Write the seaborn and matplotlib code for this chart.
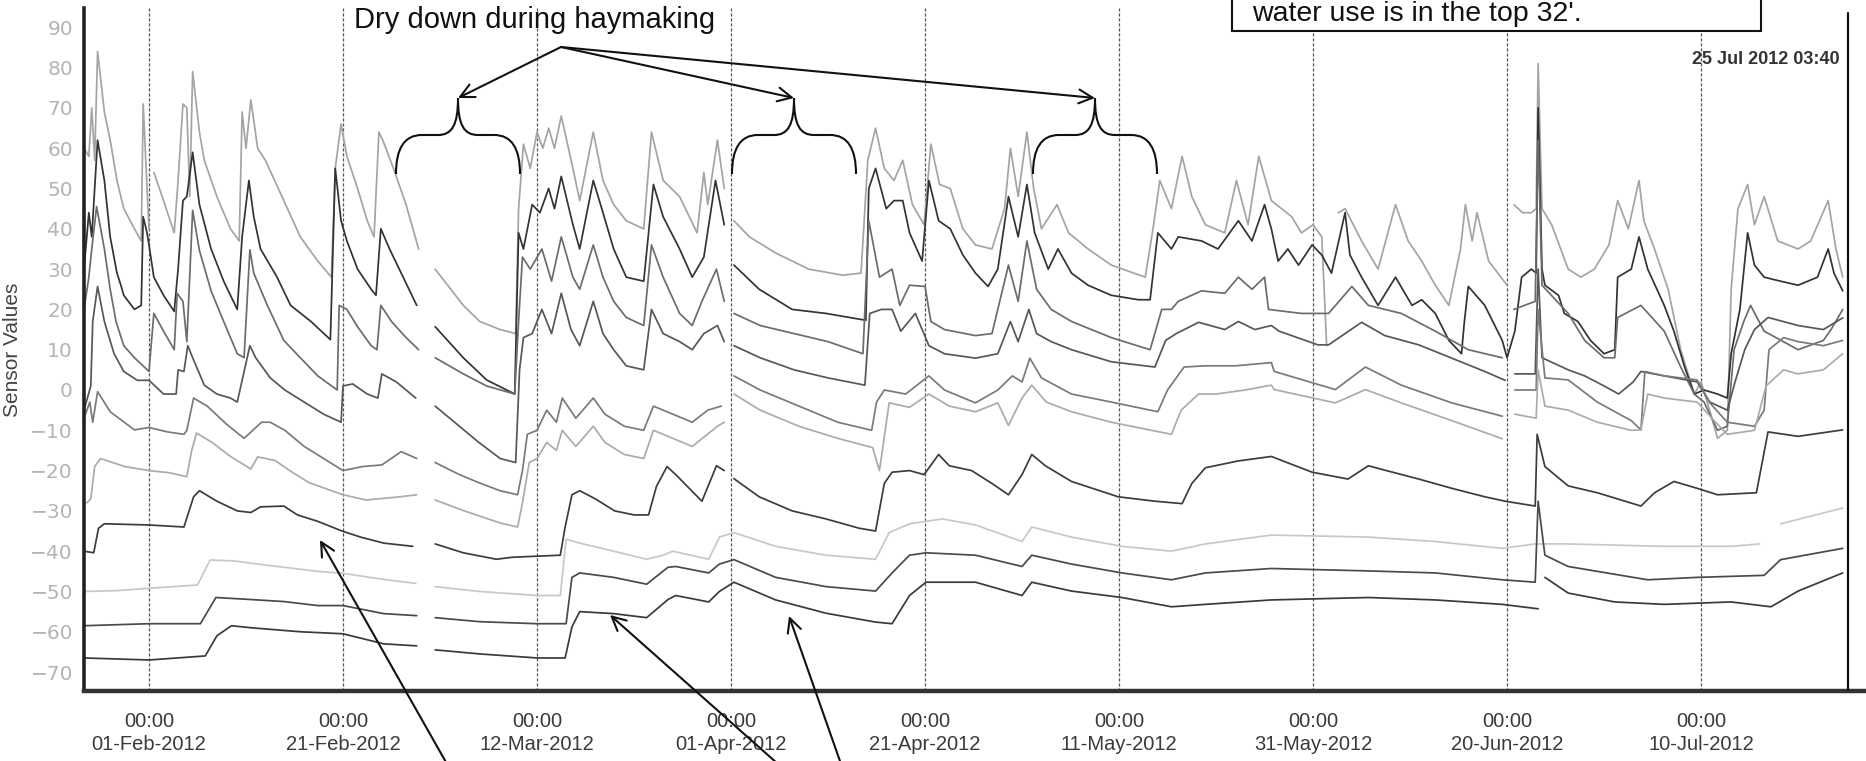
"""
Soil moisture sensor traces, Feb - Jul 2012, with haymaking dry-down notes.
Values read off the original chart; x is days after 01-Feb-2012 00:00.
"""

import numpy as np
import pandas as pd
import matplotlib
matplotlib.use('Agg')
import matplotlib.pyplot as plt
import matplotlib.dates as mdates
from matplotlib.patches import Rectangle, PathPatch, FancyArrowPatch
from matplotlib.path import Path
import seaborn as sns

BASE = pd.Timestamp('2012-02-01 00:00')
NAN = np.nan

# (day after 01-Feb, sensor value); NAN marks a gap in the record
SENSOR_A = [(-6.7, 60), (-6.2, 58), (-5.9, 70), (-5.6, 57), (-5.3, 84), (-4.6, 69), (-4.0, 62), (-3.3, 52),
            (-2.6, 45), (-1.5, 40), (-0.8, 37), (-0.6, 71), (-0.2, 50), (0.0, 40), (0.3, NAN), (0.5, 54),
            (1.5, 47), (2.6, 39), (3.0, 52), (3.5, 71), (3.9, 70), (4.2, 48), (4.5, 79), (5.2, 64), (5.7, 57),
            (7.0, 48), (8.4, 40), (9.3, 37), (9.6, 69), (10.0, 60), (10.5, 72), (11.2, 60), (12.0, 57),
            (13.9, 47), (15.6, 38), (17.4, 32), (18.8, 28), (19.2, 55), (19.8, 66), (20.4, 58), (21.5, 50),
            (22.5, 42), (23.2, 38), (23.7, 64), (24.1, 62), (25.2, 55), (26.5, 46), (27.8, 35), (28.5, NAN),
            (29.5, 30), (32.4, 21), (34.1, 17), (36.2, 15), (37.8, 14), (38.1, 45), (38.6, 61), (39.3, 55),
            (40.0, 64), (40.6, 60), (41.2, 65), (41.8, 60), (42.5, 68), (43.7, 55), (44.4, 47), (45.8, 64),
            (46.8, 52), (47.9, 46), (49.2, 42), (51.0, 40), (51.8, 64), (53.0, 52), (54.7, 48), (56.5, 39),
            (57.2, 54), (57.6, 46), (58.6, 62), (59.3, 50), (59.8, NAN), (60.3, 42), (61.9, 38), (64.6, 34),
            (68.0, 30), (71.5, 28.5), (73.4, 29), (74.1, 57), (74.9, 65), (75.8, 55), (76.8, 52), (77.7, 57),
            (78.7, 46), (79.9, 41), (80.6, 61), (81.5, 51), (82.6, 50), (83.9, 40), (85.2, 36), (86.9, 35),
            (88.2, 45), (88.8, 60), (89.6, 48), (90.5, 64), (91.2, 50), (92.0, 40), (93.6, 46), (94.8, 39),
            (96.8, 35), (99.2, 31), (102.7, 28), (103.5, 40), (104.2, 52), (105.4, 45), (106.5, 58),
            (107.5, 48), (108.9, 41), (110.9, 39), (112.1, 52), (113.3, 41), (114.4, 58), (115.7, 47),
            (117.8, 43), (118.8, 39), (120.0, 41), (120.9, 38), (121.4, 11), (121.6, NAN), (122.6, 44),
            (123.3, 45), (125.0, 37), (126.7, 30), (128.5, 46), (129.8, 37), (131.2, 32), (132.6, 26),
            (134.0, 21), (135.2, 35), (135.7, 46), (136.4, 37), (136.9, 44), (138.1, 32), (140.0, 26),
            (140.3, NAN), (140.7, 46), (141.6, 44), (142.5, 44), (143.0, 45), (143.2, 81), (143.6, 45),
            (144.6, 41), (146.3, 30), (147.6, 28), (149.0, 30), (150.5, 36), (151.4, 47), (152.5, 40),
            (153.6, 52), (154.1, 42), (155.2, 35), (156.6, 25), (157.9, 10), (159.3, -1), (160.0, 2),
            (161.0, -6), (161.7, -12), (162.7, -10), (163.1, 25), (163.8, 45), (164.8, 51), (165.5, 41),
            (166.5, 48), (167.9, 37), (170.0, 35), (171.3, 37), (173.1, 47), (173.9, 35), (174.6, 28)]

SENSOR_B = [(-6.7, 30), (-6.2, 44), (-5.9, 38), (-5.3, 62), (-4.6, 52), (-4.0, 38), (-3.3, 29), (-2.9, 26),
            (-2.6, 23.5), (-1.5, 20), (-0.8, 21), (-0.6, 43), (-0.2, 39), (0.0, 36), (0.5, 28), (1.5, 23.5),
            (2.6, 19.5), (3.0, 30), (3.5, 47), (3.9, 48), (4.5, 59), (5.2, 46), (6.4, 35), (7.7, 27),
            (9.1, 20), (9.6, 38), (10.3, 52), (10.8, 43), (11.5, 35), (13.2, 28), (14.6, 21), (16.7, 17),
            (18.7, 12.5), (19.2, 55), (19.8, 42), (20.4, 37), (21.5, 30), (22.9, 25), (23.4, 23.5),
            (23.9, 40), (24.8, 35), (26.2, 28), (27.6, 21), (28.5, NAN), (29.5, 15.7), (32.4, 8), (34.8, 2.5),
            (37.7, -1), (38.1, 39), (38.6, 35), (39.5, 46), (40.3, 44), (41.2, 50), (41.8, 45), (42.5, 53),
            (43.7, 41), (44.4, 35), (45.8, 52), (46.8, 44), (47.9, 35), (49.2, 28), (51.0, 27), (52.0, 51),
            (53.0, 43), (54.7, 35), (56.0, 28), (57.2, 33), (58.4, 52), (59.3, 41), (59.8, NAN), (60.3, 31),
            (62.9, 25), (66.3, 20), (69.8, 19), (73.9, 17.3), (74.2, 50), (74.9, 55), (76.0, 45), (76.8, 47),
            (77.7, 47), (78.4, 39), (79.7, 32), (80.4, 52), (81.4, 42), (82.6, 40), (83.9, 33.5), (85.2, 29),
            (86.5, 25.7), (87.5, 30), (88.6, 48), (89.6, 38), (90.5, 51), (91.3, 39), (92.7, 30), (93.7, 35),
            (95.1, 29), (96.8, 26), (99.2, 23.5), (102.0, 22.4), (103.2, 22.4), (104.0, 39), (105.4, 35),
            (106.1, 38), (108.5, 37), (110.2, 35), (112.3, 42), (113.7, 37), (115.0, 46), (115.7, 40),
            (116.4, 32), (117.4, 35), (118.5, 31), (119.9, 36), (120.9, 33.5), (121.9, 29), (123.3, 44),
            (123.8, 33.5), (125.0, 28), (126.7, 21), (128.5, 28), (130.2, 21), (131.2, 22.4), (132.6, 19),
            (134.0, 12.3), (135.3, 9), (135.6, 17), (136.0, 25.7), (137.7, 21), (139.5, 12.3), (140.0, 8),
            (140.8, 14.6), (141.5, 28), (142.5, 30), (143.0, 29), (143.2, 70), (143.6, 30), (143.9, 26),
            (145.3, 23.5), (145.9, 19), (147.3, 17), (148.6, 12.3), (150.0, 9), (151.1, 10), (151.4, 28),
            (152.8, 30), (153.6, 38), (154.5, 30), (156.2, 21), (157.2, 14.6), (158.3, 5.7), (159.3, -1),
            (160.3, 0), (161.7, -1), (162.7, -2), (163.1, 9), (164.0, 20), (164.8, 39), (165.5, 31),
            (166.5, 28), (168.2, 27), (170.0, 26), (172.0, 28), (173.1, 35), (173.7, 29), (174.6, 24.6)]

SENSOR_C = [(-6.7, 20), (-6.2, 28), (-5.9, 35), (-5.4, 45.5), (-4.6, 35), (-4.0, 25), (-3.4, 17), (-2.6, 11),
            (-1.5, 8), (0.0, 4.6), (0.5, 19), (1.5, 14.6), (2.6, 10), (2.9, 24), (3.5, 22), (3.9, 12),
            (4.5, 44.6), (5.2, 34.6), (6.4, 24.6), (7.7, 17), (9.1, 9), (9.8, 8), (10.4, 34.8), (10.8, 29),
            (12.2, 21), (13.9, 12.3), (15.6, 8), (17.4, 3.5), (19.4, 0), (19.6, 21), (20.4, 20), (21.5, 15.7),
            (22.9, 11), (23.5, 10), (23.9, 21), (25.0, 17), (26.5, 13), (27.8, 10), (28.5, NAN), (29.5, 8),
            (32.4, 4), (34.8, 1), (37.7, -1), (38.1, 17), (38.5, 33), (39.3, 30), (40.5, 35), (41.5, 27),
            (42.5, 38), (43.7, 28), (44.4, 25), (45.8, 36), (46.8, 28), (47.9, 22), (49.2, 18), (51.0, 16),
            (51.8, 36), (53.0, 28), (54.7, 19), (56.0, 16), (57.0, 22), (58.5, 30), (59.3, 22), (59.8, NAN),
            (60.3, 19), (63.0, 16), (66.5, 14), (70.0, 12), (73.6, 9), (74.2, 42), (75.3, 28), (76.6, 30),
            (77.4, 21), (78.4, 26), (80.0, 25.7), (80.6, 17), (82.0, 15), (85.2, 13.5), (86.9, 14), (88.6, 31),
            (89.6, 22), (90.5, 37), (91.5, 25), (93.0, 20), (95.1, 17), (99.2, 13), (103.2, 10), (104.4, 20),
            (105.4, 20), (106.1, 22), (108.5, 24.6), (110.9, 24), (112.3, 28), (113.7, 25), (115.0, 28),
            (115.4, 20), (118.8, 19), (121.6, 19), (124.0, 25.7), (125.7, 21), (129.1, 19), (132.6, 14.6),
            (136.0, 10), (139.5, 8), (140.3, NAN), (140.7, 20), (142.9, 22), (143.2, 62), (143.6, 26),
            (146.3, 19), (148.0, 12.3), (150.0, 8), (151.1, 8), (151.4, 18), (153.8, 21), (156.2, 14.6),
            (157.9, 5.7), (159.3, -1), (160.3, -3), (161.7, -10), (162.7, -9), (163.4, 10), (164.4, 17),
            (165.1, 21), (166.5, 14.6), (170.0, 10), (172.6, 12.3), (173.4, 15), (174.6, 20)]

SENSOR_D = [(-6.7, -5), (-6.0, 1), (-5.8, 17), (-5.3, 25.7), (-4.6, 17), (-3.6, 9), (-2.6, 4.6), (-1.2, 2.4),
            (0.0, 2.4), (1.5, -1), (2.8, -1), (3.0, 5), (3.6, 4.6), (4.0, 11), (4.5, 8), (5.7, 1.2), (7.0, -1),
            (8.4, -2), (9.1, -3), (10.4, 11), (11.0, 8), (12.5, 3), (14.0, 0), (16.0, -3), (18.0, -6),
            (19.8, -8), (20.0, 1), (21.0, 1.5), (22.5, -1), (23.6, -2), (24.0, 4), (25.5, 2), (27.5, -2),
            (28.5, NAN), (29.5, -4), (32.0, -9), (34.0, -13), (36.2, -17), (37.8, -18), (38.2, 5), (38.6, 13),
            (39.5, 14), (40.5, 20), (41.5, 14), (42.5, 24), (43.5, 15), (44.4, 11), (45.8, 22), (46.8, 14),
            (47.9, 10), (49.2, 6), (51.0, 5), (51.8, 20), (53.0, 14), (54.7, 12), (56.0, 10), (57.2, 14),
            (58.6, 16), (59.3, 12), (59.8, NAN), (60.3, 11), (63.0, 8), (66.5, 5), (70.0, 3), (73.8, 1.2),
            (74.3, 19), (75.5, 20), (76.6, 20), (77.5, 14.6), (79.0, 19), (80.4, 11), (82.0, 9), (85.2, 7.9),
            (87.5, 9), (88.8, 17), (89.6, 12), (90.7, 20), (91.5, 14), (93.0, 12), (95.1, 10), (99.2, 7),
            (103.7, 5.7), (104.8, 12.3), (105.9, 14), (108.2, 16.8), (110.9, 15), (112.3, 17), (114.0, 15),
            (115.7, 16), (116.5, 14.6), (120.5, 11.2), (121.6, 11.2), (125.0, 16.8), (127.4, 13.5),
            (130.9, 11.2), (134.3, 7.9), (137.7, 4.6), (139.8, 2.4), (140.3, NAN), (140.8, 4), (142.9, 4),
            (143.2, 30), (143.6, 8), (146.3, 5), (148.0, 3.5), (150.0, 1), (151.5, -1), (153.0, 2),
            (153.8, 4.6), (156.2, 3.5), (159.6, 2), (160.9, -3), (162.7, -5), (163.5, 2), (164.5, 10),
            (165.5, 15), (166.9, 18), (170.0, 16), (172.6, 15), (174.6, 17.9)]

SENSOR_E = [(-6.7, -7), (-6.1, -3), (-5.8, -8), (-5.3, -0.4), (-4.0, -5.4), (-1.5, -9.9), (0.0, -9.3),
            (1.9, -10.4), (3.6, -11), (3.9, -10), (4.6, -2), (6.0, -4), (8.0, -8.5), (9.8, -12), (11.6, -8),
            (12.5, -8), (14.0, -10), (16.0, -14), (18.0, -17), (20.0, -20), (22.0, -19), (24.0, -18.6),
            (26.0, -15.3), (27.6, -17), (28.5, NAN), (29.5, -18), (32.0, -21), (34.0, -23), (36.2, -25),
            (38.0, -26), (38.5, -20), (39.0, -11), (40.0, -10), (41.0, -5), (42.0, -8), (42.6, -2), (44.0, -7),
            (45.8, -2), (47.0, -6), (49.0, -9), (51.0, -10), (52.0, -4), (54.0, -6), (56.0, -8), (57.6, -5),
            (59.0, -4), (59.8, NAN), (60.3, 3.5), (63.0, 0), (67.0, -4), (71.0, -8), (74.5, -10), (75.0, -3),
            (75.8, 0), (78.0, -1), (80.4, 3.5), (82.0, 0), (85.2, -3.2), (87.5, 0), (89.0, 3.5), (90.0, 2),
            (90.8, 7.9), (92.0, 3), (95.1, -1), (99.2, -3), (104.0, -5.4), (105.0, 0), (106.7, 5.7),
            (108.9, 6), (112.0, 6), (115.7, 6.8), (116.0, 4.6), (122.3, 0.1), (125.4, 5.7), (129.1, 1.2),
            (134.3, -3.2), (139.5, -6.5), (140.3, NAN), (140.8, 0), (143.0, 0), (143.2, 20), (143.9, 3),
            (146.3, 2.5), (149.3, -3), (152.8, -7.6), (153.8, -9.9), (154.2, 4.6), (156.2, 3.5), (159.6, 2.5),
            (160.9, -3.2), (162.7, -8), (165.5, -9), (166.5, -5), (167.0, 10), (168.5, 13), (170.0, 12),
            (172.6, 11), (174.6, 12.3)]

SENSOR_F = [(-6.4, -28), (-6.0, -27), (-5.6, -19), (-5.0, -17), (-2.5, -19), (0.0, -20), (2.0, -20.5),
            (3.9, -21.5), (4.4, -15), (4.9, -10.7), (6.5, -13), (8.4, -16.5), (10.5, -19.6), (11.2, -16.6),
            (13.0, -17.5), (14.5, -20), (16.5, -23), (20.0, -26), (22.4, -27.3), (25.9, -26.5), (27.6, -26),
            (28.5, NAN), (29.5, -27.3), (32.5, -30), (36.2, -33), (38.0, -34), (38.5, -28), (39.2, -18),
            (40.0, -17), (41.0, -13), (42.0, -15), (42.6, -10), (44.0, -14), (45.8, -9), (47.0, -13),
            (49.0, -16), (51.0, -17), (52.0, -10), (54.0, -12), (56.0, -14), (58.6, -9), (59.3, -8),
            (59.8, NAN), (60.3, -1), (63.0, -5), (67.0, -9), (71.0, -12), (74.6, -14.3), (75.3, -20),
            (76.3, -3.2), (78.4, -4.3), (80.4, -1), (82.5, -4), (85.2, -5.4), (87.5, -3.2), (88.6, -8.8),
            (90.0, -2), (91.0, 1.2), (92.5, -3), (95.1, -5.4), (99.2, -8), (105.4, -11), (106.4, -5),
            (108.2, -1), (110.0, -1), (113.0, 0), (115.7, 1.2), (116.0, 0.1), (122.3, -3.2), (125.4, 0.1),
            (129.1, -3.2), (134.3, -7.6), (139.5, -12.1), (140.3, NAN), (140.8, -6), (143.0, -7), (143.2, 5),
            (143.9, -4), (146.3, -5), (149.3, -8), (152.8, -10), (153.8, -9.9), (154.5, -1), (156.2, -2),
            (159.6, -3), (161.5, -8), (162.7, -11), (165.5, -10), (166.7, 1), (168.5, 5), (170.0, 4),
            (172.6, 5), (174.6, 9)]

SENSOR_G = [(-6.7, -40), (-5.7, -40.4), (-5.2, -34.3), (-4.6, -33.2), (0.0, -33.5), (3.6, -34), (4.6, -26.5),
            (5.2, -25), (7.0, -27.6), (9.1, -30), (10.5, -30.4), (11.5, -29), (13.9, -28.8), (15.3, -31),
            (17.4, -32.6), (19.9, -35), (21.8, -36.5), (24.2, -38), (27.2, -38.8), (28.5, NAN), (29.5, -38.2),
            (32.4, -40.4), (35.8, -42), (37.5, -41.5), (42.4, -41), (42.9, -34), (43.6, -26), (44.4, -25),
            (46.0, -27), (48.0, -30), (50.0, -31), (51.5, -31), (52.3, -24), (53.4, -19), (54.3, -21),
            (57.0, -27.6), (58.5, -18.8), (59.3, -20), (59.8, NAN), (60.3, -22), (62.9, -26.5), (66.3, -30),
            (69.8, -32), (73.2, -34.3), (74.9, -35), (75.8, -23.2), (76.6, -20.4), (78.4, -20), (79.9, -21),
            (81.4, -16), (82.5, -18.8), (84.8, -20), (86.9, -23.2), (88.6, -26), (90.0, -21), (91.0, -16),
            (92.4, -18.8), (95.1, -22.7), (99.9, -26.5), (103.7, -27.6), (106.5, -28.2), (107.5, -23.2),
            (108.9, -19.3), (112.3, -17.6), (115.7, -16.5), (119.9, -20.4), (123.6, -22.1), (125.7, -18.8),
            (127.4, -19.9), (130.9, -22.1), (134.3, -24.4), (137.7, -26.5), (139.8, -27.6), (142.9, -28.8),
            (143.1, -11), (143.9, -19), (146.3, -23.8), (149.3, -25.5), (153.8, -28.8), (155.2, -25.5),
            (157.2, -22.7), (159.6, -24.4), (161.7, -26), (165.7, -25.5), (166.9, -10.4), (170.0, -11.5),
            (174.6, -9.9)]

SENSOR_H = [(-6.7, -50), (-3.3, -49.8), (0.0, -49.2), (5.0, -48.4), (6.3, -42.2), (8.7, -42.4), (12.2, -43.5),
            (17.4, -45), (20.0, -45.5), (24.2, -47), (27.5, -48), (28.5, NAN), (29.5, -48.8), (34.1, -50),
            (40.0, -51), (42.4, -51), (43.0, -37), (44.4, -38), (47.9, -40), (51.3, -42), (53.0, -41),
            (54.0, -40), (57.7, -42), (58.8, -36.5), (60.3, -35.4), (64.6, -38.8), (69.8, -41), (74.9, -42),
            (76.3, -35.4), (78.4, -33.2), (81.8, -32), (85.2, -33.5), (90.0, -37.6), (91.0, -34),
            (95.1, -36.5), (100.3, -38.8), (105.4, -40), (108.9, -38.2), (115.7, -36), (125.7, -36.5),
            (132.6, -37.6), (139.5, -39.3), (142.9, -38.2), (146.3, -38.2), (156.2, -38.8), (163.1, -38.8),
            (166.0, -38.2), (166.8, NAN), (168.2, -33.2), (174.6, -29.3)]

SENSOR_I = [(-6.7, -58.5), (0.0, -58), (5.3, -58), (6.9, -51.5), (10.5, -52), (13.9, -52.5), (17.4, -53.5),
            (20.0, -53.5), (24.2, -55.5), (27.6, -56), (28.5, NAN), (29.5, -56.5), (34.1, -57.5), (40.0, -58),
            (43.0, -58), (43.6, -46.5), (44.4, -45.4), (47.9, -46.5), (51.3, -48.2), (53.5, -44),
            (54.3, -43.8), (57.7, -45.4), (58.8, -43.2), (60.3, -42.1), (64.6, -46.5), (69.8, -48.8),
            (74.9, -49.9), (76.6, -45.4), (78.4, -41), (80.1, -40.4), (85.2, -41), (90.0, -43.8), (91.0, -41),
            (95.1, -43.2), (100.3, -45.4), (105.4, -47.1), (108.9, -45.4), (115.7, -44.3), (125.7, -44.9),
            (132.6, -45.4), (139.5, -47.1), (142.9, -47.7), (143.2, -27.6), (143.9, -41), (146.3, -43.8),
            (154.5, -47.1), (159.6, -46.5), (166.5, -46), (168.2, -42.1), (174.6, -39.3)]

SENSOR_J = [(-6.7, -66.5), (0.0, -67), (5.8, -66), (7.0, -61), (8.5, -58.5), (10.5, -59), (15.6, -60),
            (20.0, -60.5), (24.2, -63), (27.6, -63.5), (28.5, NAN), (29.5, -64.5), (34.1, -65.5), (40.0, -66.5),
            (42.9, -66.5), (43.6, -58.8), (44.4, -55), (47.9, -55.5), (51.3, -56.5), (53.5, -52), (54.3, -51),
            (57.7, -52.6), (58.8, -50), (60.3, -47.7), (64.6, -52.1), (69.8, -55.4), (74.9, -57.6),
            (76.6, -58), (78.4, -51), (80.1, -47.7), (85.2, -47.7), (90.0, -51), (91.0, -47.7), (95.1, -49.9),
            (100.3, -51.5), (105.4, -53.8), (108.9, -53.2), (115.7, -52.1), (125.7, -51.5), (132.6, -52.1),
            (139.5, -53.2), (143.2, -54.3), (143.5, NAN), (143.9, -46.5), (146.3, -50.4), (151.1, -52.6),
            (156.2, -53.2), (163.1, -52.6), (167.2, -53.8), (170.0, -49.9), (174.6, -45.4)]

SERIES = {'A': SENSOR_A, 'B': SENSOR_B, 'C': SENSOR_C, 'D': SENSOR_D, 'E': SENSOR_E,
          'F': SENSOR_F, 'G': SENSOR_G, 'H': SENSOR_H, 'I': SENSOR_I, 'J': SENSOR_J}
GREYS = {'A': '#a4a4a4', 'B': '#333333', 'C': '#6c6c6c', 'D': '#575757', 'E': '#7a7a7a',
         'F': '#ababab', 'G': '#3c3c3c', 'H': '#c8c8c8', 'I': '#4a4a4a', 'J': '#3a3a3a'}

TICK_DATES = ['2012-02-01', '2012-02-21', '2012-03-12', '2012-04-01', '2012-04-21',
              '2012-05-11', '2012-05-31', '2012-06-20', '2012-07-10']
Y_TICKS = [-70, -60, -50, -40, -30, -20, -10, 0, 10, 20, 30, 40, 50, 60, 70, 80, 90]
NOW = pd.Timestamp('2012-07-25 03:40')
X_START, X_END = -6.7, 177.0
Y_LIM = (-74.7, 94.8)

W, H = 1866, 761


def fpx(x, y):
    """pixel position measured from the top-left corner -> figure fraction"""
    return (x / W, 1 - y / H)


def brace(xc, half=62, tip=98, mid=135, foot=174):
    pts = [(xc - half, foot), (xc - half, mid + 14), (xc - half + 8, mid), (xc - half + 26, mid),
           (xc - 20, mid), (xc - 6, mid), (xc, mid - 10), (xc, tip),
           (xc, mid - 10), (xc + 6, mid), (xc + 20, mid),
           (xc + half - 26, mid), (xc + half - 8, mid), (xc + half, mid + 14), (xc + half, foot)]
    codes = [Path.MOVETO, Path.CURVE4, Path.CURVE4, Path.CURVE4,
             Path.LINETO, Path.CURVE4, Path.CURVE4, Path.CURVE4,
             Path.CURVE4, Path.CURVE4, Path.CURVE4,
             Path.LINETO, Path.CURVE4, Path.CURVE4, Path.CURVE4]
    return Path([fpx(*p) for p in pts], codes)


def long_table():
    rows = []
    for name, pts in SERIES.items():
        seg = 0
        for day, val in pts:
            if np.isnan(val):
                seg += 1
                continue
            rows.append((name, f'{name}{seg}', BASE + pd.Timedelta(days=day), val))
    return pd.DataFrame(rows, columns=['sensor', 'segment', 'time', 'value'])


def main():
    sns.set_style('white')
    plt.rcParams['font.family'] = ['Liberation Sans', 'DejaVu Sans']

    df = long_table()

    fig = plt.figure(figsize=(W / 100, H / 100), dpi=100)
    ax = fig.add_axes([84 / W, 1 - 691 / H, 1 - 84 / W, (691 - 8) / H])

    ticks = pd.to_datetime(TICK_DATES)
    for t in ticks:
        ax.axvline(t, color='#555555', lw=0.9, ls=(0, (2.5, 1.5)), zorder=1)

    sns.lineplot(data=df, x='time', y='value', hue='sensor', units='segment', estimator=None,
                 palette=GREYS, lw=1.25, legend=False, ax=ax, zorder=2)

    ax.axvline(NOW, ymax=(691 - 13) / (691 - 8), color='#111111', lw=1.6, zorder=3)
    ax.text(NOW - pd.Timedelta(hours=20), 82, '25 Jul 2012 03:40', ha='right', va='center',
            fontsize=13, fontweight='bold', color='#333333')

    ax.set_xlim(BASE + pd.Timedelta(days=X_START), BASE + pd.Timedelta(days=X_END))
    ax.set_ylim(*Y_LIM)
    ax.set_xticks(ticks)
    ax.xaxis.set_major_formatter(mdates.DateFormatter('%H:%M\n%d-%b-%Y'))
    ax.set_xticks(pd.date_range('2012-01-27', '2012-07-26', freq='5D'), minor=True)
    ax.set_yticks(Y_TICKS)
    ax.set_xlabel('')
    ax.set_ylabel('Sensor Values', fontsize=15, color='#444444', labelpad=6)

    ax.tick_params(axis='x', which='major', length=9, width=0.9, color='#555555', pad=6,
                   labelsize=14.5, labelcolor='#3a3a3a')
    ax.tick_params(axis='x', which='minor', length=4, width=0.8, color='#777777')
    ax.tick_params(axis='y', length=5, width=1, color='#aaaaaa', pad=3, labelcolor='#b4b4b4')
    for lab in ax.get_xticklabels():
        lab.set_linespacing(1.25)
    for lab in ax.get_yticklabels():
        lab.set_fontfamily('DejaVu Sans')
        lab.set_fontsize(14.5)

    for side in ('top', 'right'):
        ax.spines[side].set_visible(False)
    ax.spines['left'].set_linewidth(2.6)
    ax.spines['left'].set_color('#222222')
    ax.spines['bottom'].set_linewidth(3.2)
    ax.spines['bottom'].set_color('#333333')

    # annotations drawn over the chart
    fig.text(*fpx(354, 28), 'Dry down during haymaking', fontsize=21, va='baseline', color='#111111')
    for xc in (458, 794, 1095):
        fig.add_artist(PathPatch(brace(xc), transform=fig.transFigure, fill=False, lw=1.5, color='#111111'))
        fig.add_artist(FancyArrowPatch(fpx(561, 47), fpx(xc, 98), transform=fig.transFigure,
                                       arrowstyle='->', mutation_scale=25, lw=1.5, color='#111111',
                                       shrinkA=0, shrinkB=0))

    for tail, head in (((447, 764), (320, 540)), ((778, 764), (610, 615)), ((841, 764), (789, 616))):
        fig.add_artist(FancyArrowPatch(fpx(*tail), fpx(*head), transform=fig.transFigure,
                                       arrowstyle='->', mutation_scale=25, lw=1.5, color='#111111',
                                       shrinkA=0, shrinkB=0))

    x0, y0 = fpx(1232, 31)
    fig.add_artist(Rectangle((x0, y0), (1761 - 1232) / W, 0.1, transform=fig.transFigure,
                             facecolor='white', edgecolor='#111111', lw=1.5, zorder=5))
    fig.text(*fpx(1252, 21), "water use is in the top 32'.", fontsize=20.5, va='baseline',
             color='#111111', zorder=6)

    fig.savefig('out.png', dpi=100)
    plt.close(fig)


if __name__ == '__main__':
    main()
